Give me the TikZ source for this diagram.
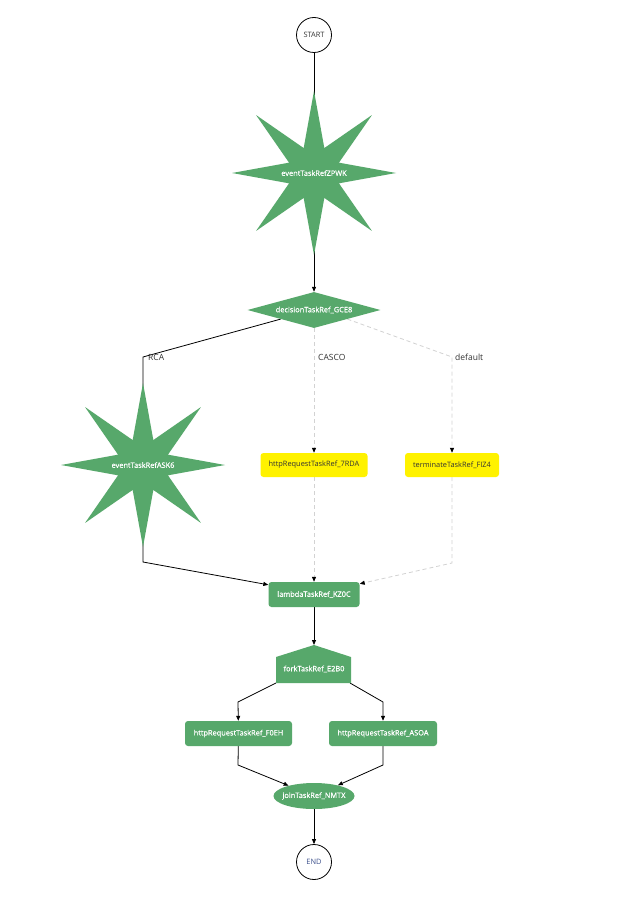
\documentclass[tikz,border=0pt]{standalone}
\usepackage{fontspec}
\setmainfont{Open Sans}
\newfontfamily\semib{Open Sans}[FakeBold=0.8]
\usetikzlibrary{shapes.geometric,arrows.meta,backgrounds,calc}
\definecolor{tgreen}{RGB}{87,168,107}
\definecolor{tgray}{RGB}{210,210,210}
\definecolor{ttext}{RGB}{51,51,51}
\definecolor{tblue}{RGB}{60,80,140}
\begin{document}
\begin{tikzpicture}[x=1pt,y=-1pt,
  every node/.style={font=\fontsize{7.4}{8}\selectfont},
  gfont/.style={font=\semib\fontsize{7.4}{8}\selectfont},
  greenbox/.style={rectangle, rounded corners=3pt, fill=tgreen, text=white, gfont, minimum height=25pt, inner sep=0pt},
  yellowbox/.style={rectangle, rounded corners=3pt, fill=yellow, text=ttext, minimum height=24pt, inner sep=0pt},
  termcircle/.style={circle, draw=black, line width=0.8pt, minimum size=35pt, inner sep=0pt, fill=white},
  gtext/.style={text=white, gfont, inner sep=1pt},
  flow/.style={draw=black, line width=0.8pt, -{Triangle[length=5pt,width=4pt]}},
  dflow/.style={draw=tgray, line width=0.8pt, dash pattern=on 4pt off 3pt, -{Triangle[length=5pt,width=4pt,color=black]}},
  elabel/.style={font=\fontsize{8.5}{10}\selectfont, text=ttext, anchor=west, inner sep=0pt},
  eightstar/.pic={\fill[tgreen] (90:82) \foreach \k in {0,...,7}{ -- (112.5+45*\k:27) -- (135+45*\k:82)} -- cycle;},
]
\useasboundingbox (0,0) rectangle (616,901);

% stars
\path (314,173) pic {eightstar};
\path (143,465) pic {eightstar};

% nodes
\node[termcircle, text=ttext] (start) at (314,35) {START};
\node[gtext] (zpwk) at (314,173) {eventTaskRefZPWK};
\node[diamond, aspect=3.7, fill=tgreen, text=white, gfont, minimum width=133pt, minimum height=36pt, inner sep=0pt] (dec) at (314,310) {decisionTaskRef\_GCE8};
\node[gtext] (ask6) at (143,465) {eventTaskRefASK6};
\node[yellowbox, minimum width=107pt] (rda) at (314,465) {httpRequestTaskRef\_7RDA};
\node[yellowbox, minimum width=94pt] (fiz) at (452,465) {terminateTaskRef\_FIZ4};
\node[greenbox, minimum width=91pt] (lam) at (314,594.5) {lambdaTaskRef\_KZ0C};
\fill[tgreen] (314,645) -- (351,657) -- (351,683) -- (276,683) -- (276,657) -- cycle;
\coordinate (forktop) at (314,645);
\node[gtext] (fork) at (314,669) {forkTaskRef\_E2B0};
\node[greenbox, minimum width=107pt] (f0eh) at (238.5,733.5) {httpRequestTaskRef\_F0EH};
\node[greenbox, minimum width=108pt] (asoa) at (383,733.5) {httpRequestTaskRef\_ASOA};
\node[ellipse, fill=tgreen, text=white, gfont, minimum width=81pt, minimum height=26pt, inner xsep=-3pt, inner ysep=0pt] (join) at (314,796) {joinTaskRef\_NMTX};
\node[termcircle, text=tblue] (endn) at (314,862) {END};

% edge labels
\node[elabel] (lrca) at (148,357) {RCA};
\node[elabel] (lcasco) at (318,357) {CASCO};
\node[elabel] (ldef) at (455,357) {default};

% bend coordinates
\coordinate (b1) at (143,357);
\coordinate (b2) at (143,562);
\coordinate (b3) at (452,357);
\coordinate (b4) at (452,563);
\coordinate (b5) at (238,702);
\coordinate (b6) at (383,702);
\coordinate (b7) at (238,765);
\coordinate (b8) at (383,765);
\coordinate (fl) at (276,683);
\coordinate (fr) at (350,683);

\begin{pgfonlayer}{background}
\fill[white] (0,0) rectangle (616,901);
\draw[flow] (start) -- (zpwk);
\draw[flow] (zpwk) -- (dec);
\draw[flow] ($(dec.south)!0.5!(dec.west)$) -- (b1) -- (ask6);
\draw[flow] (ask6) -- (b2) -- ($(lam.north west)+(0,3)$);
\draw[dflow] (dec) -- (rda);
\draw[dflow] ($(dec.south)!0.5!(dec.east)$) -- (b3) -- (fiz);
\draw[dflow] (rda) -- (lam);
\draw[dflow] (fiz) -- (b4) -- ($(lam.north east)+(0,2)$);
\draw[flow] (lam) -- (forktop);
\draw[flow] (fl) -- (b5) -- (f0eh);
\draw[flow] (fr) -- (b6) -- (asoa);
\draw[flow] (f0eh) -- (b7) -- (join);
\draw[flow] (asoa) -- (b8) -- (join);
\draw[flow] (join) -- (endn);
\end{pgfonlayer}
\end{tikzpicture}
\end{document}
